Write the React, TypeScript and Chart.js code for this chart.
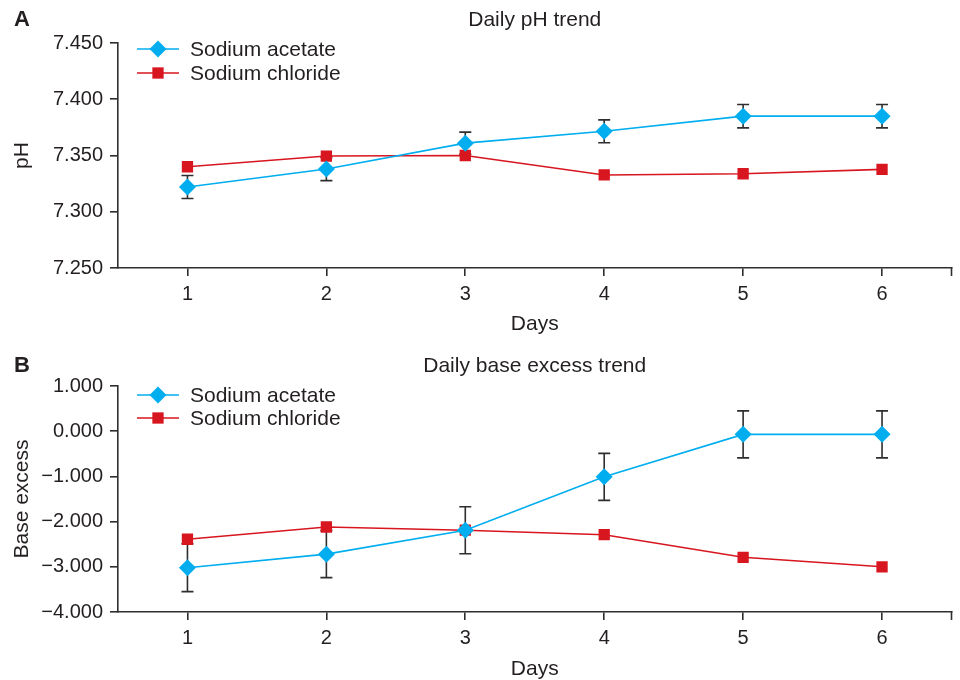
import React, { useEffect, useRef } from 'react';
import { Chart, registerables } from 'chart.js';

Chart.register(...registerables);

// ---- data ----
const days = ['1', '2', '3', '4', '5', '6'];
const seriesNames = ['Sodium acetate', 'Sodium chloride'];

const phAcetate = [7.322, 7.338, 7.361, 7.3715, 7.385, 7.385];
const phAcetateErr = [0.0102, 0.0103, 0.0098, 0.0102, 0.0104, 0.0104];
const phChloride = [7.34, 7.3495, 7.35, 7.3327, 7.3338, 7.3377];

const beAcetate = [-3.02, -2.72, -2.19, -1.01, -0.07, -0.07];
const beAcetateErr = [0.53, 0.52, 0.52, 0.52, 0.52, 0.52];
const beChloride = [-2.39, -2.12, -2.19, -2.29, -2.79, -3.0];

const phAxis = { min: 7.25, max: 7.45, step: 0.05 };
const beAxis = { min: -4, max: 1, step: 1 };

const BLUE = '#00AEEF';
const RED = '#D7161F';
const AXIS = '#2e2e2e';
const TEXT = '#231F20';
const FONT = "'Liberation Sans', Arial, Helvetica, sans-serif";

function drawMarker(ctx: CanvasRenderingContext2D, style: string, x: number, y: number, r: number, color: string) {
  ctx.save();
  ctx.fillStyle = color;
  ctx.beginPath();
  if (style === 'rectRot') {
    ctx.moveTo(x - r, y);
    ctx.lineTo(x, y - r);
    ctx.lineTo(x + r, y);
    ctx.lineTo(x, y + r);
    ctx.closePath();
  } else {
    const s = Math.SQRT1_2 * r;
    ctx.rect(x - s, y - s, 2 * s, 2 * s);
  }
  ctx.fill();
  ctx.restore();
}

const errorBarPlugin = {
  id: 'errorBars',
  beforeDatasetsDraw(chart: any) {
    const ctx = chart.ctx;
    const yScale = chart.scales.y;
    chart.data.datasets.forEach((ds: any, i: number) => {
      const errs = ds.errorBars;
      if (!errs) return;
      const meta = chart.getDatasetMeta(i);
      ctx.save();
      ctx.strokeStyle = AXIS;
      ctx.lineWidth = 1.6;
      meta.data.forEach((pt: any, j: number) => {
        const v = ds.data[j];
        const e = errs[j];
        const yTop = yScale.getPixelForValue(v + e);
        const yBot = yScale.getPixelForValue(v - e);
        const x = pt.x;
        ctx.beginPath();
        ctx.moveTo(x, yTop);
        ctx.lineTo(x, yBot);
        ctx.moveTo(x - 6, yTop);
        ctx.lineTo(x + 6, yTop);
        ctx.moveTo(x - 6, yBot);
        ctx.lineTo(x + 6, yBot);
        ctx.stroke();
      });
      ctx.restore();
    });
  },
};

const decorPlugin = {
  id: 'decor',
  afterDraw(chart: any, _args: any, opts: any) {
    const ctx = chart.ctx;
    const area = chart.chartArea;
    ctx.save();
    // panel letter
    ctx.fillStyle = TEXT;
    ctx.font = `bold 22px ${FONT}`;
    ctx.textAlign = 'left';
    ctx.textBaseline = 'middle';
    ctx.fillText(opts.letter, 14, opts.titleY);
    // title
    ctx.font = `21px ${FONT}`;
    ctx.textAlign = 'center';
    ctx.fillText(opts.title, (area.left + area.right) / 2, opts.titleY);
    // right end tick of x axis
    ctx.strokeStyle = AXIS;
    ctx.lineWidth = 1.6;
    ctx.beginPath();
    ctx.moveTo(area.right, area.bottom);
    ctx.lineTo(area.right, area.bottom + 8);
    ctx.stroke();
    // legend
    chart.data.datasets.forEach((ds: any, i: number) => {
      const y = area.top + opts.legendOffsets[i];
      ctx.strokeStyle = ds.borderColor;
      ctx.lineWidth = 1.6;
      ctx.beginPath();
      ctx.moveTo(137, y);
      ctx.lineTo(179, y);
      ctx.stroke();
      drawMarker(ctx, ds.pointStyle, 158, y, ds.pointRadius, ds.pointBackgroundColor);
      ctx.fillStyle = TEXT;
      ctx.font = `21px ${FONT}`;
      ctx.textAlign = 'left';
      ctx.textBaseline = 'middle';
      ctx.fillText(ds.label, 190, y + 1);
    });
    ctx.restore();
  },
};

function fmt(v: number) {
  const s = Math.abs(v).toFixed(3);
  return v < -1e-9 ? '\u2212' + s : s;
}

type PanelProps = {
  top: number;
  height: number;
  letter: string;
  title: string;
  titleY: number;
  yTitle: string;
  axis: { min: number; max: number; step: number };
  acetate: number[];
  acetateErr: number[];
  chloride: number[];
  areaTop: number;
  xAxisHeight: number;
  daysPadBottom: number;
  legendOffsets: number[];
};

function Panel(p: PanelProps) {
  const ref = useRef<HTMLCanvasElement | null>(null);
  useEffect(() => {
    if (!ref.current) return;
    const chart = new Chart(ref.current, {
      type: 'line',
      data: {
        labels: days,
        datasets: [
          {
            label: seriesNames[0],
            data: p.acetate,
            errorBars: p.acetateErr,
            borderColor: BLUE,
            backgroundColor: BLUE,
            pointBackgroundColor: BLUE,
            pointBorderWidth: 0,
            pointStyle: 'rectRot',
            pointRadius: 8.5,
            borderWidth: 1.6,
            tension: 0,
          } as any,
          {
            label: seriesNames[1],
            data: p.chloride,
            borderColor: RED,
            backgroundColor: RED,
            pointBackgroundColor: RED,
            pointBorderWidth: 0,
            pointStyle: 'rect',
            pointRadius: 8,
            borderWidth: 1.6,
            tension: 0,
          } as any,
        ],
      },
      options: {
        animation: false,
        responsive: true,
        maintainAspectRatio: false,
        devicePixelRatio: 1,
        layout: { padding: { top: p.areaTop, right: 7, left: 0, bottom: 0 } },
        plugins: {
          legend: { display: false },
          tooltip: { enabled: false },
          title: { display: false },
          decor: { letter: p.letter, title: p.title, titleY: p.titleY, legendOffsets: p.legendOffsets },
        } as any,
        scales: {
          x: {
            type: 'category',
            offset: true,
            afterFit: (s: any) => {
              s.height = p.xAxisHeight;
            },
            grid: {
              display: true,
              drawOnChartArea: false,
              drawTicks: true,
              tickLength: 8,
              color: AXIS,
              lineWidth: 1.6,
              offset: false,
            },
            border: { display: true, color: AXIS, width: 1.6 },
            ticks: { color: TEXT, font: { family: FONT, size: 20 }, padding: 6, maxRotation: 0 },
            title: {
              display: true,
              text: 'Days',
              color: TEXT,
              font: { family: FONT, size: 21, lineHeight: 1 },
              padding: { top: 0, bottom: p.daysPadBottom },
            },
          },
          y: {
            type: 'linear',
            min: p.axis.min,
            max: p.axis.max,
            afterFit: (s: any) => {
              s.width = 118;
            },
            grid: {
              display: true,
              drawOnChartArea: false,
              drawTicks: true,
              tickLength: 8,
              color: AXIS,
              lineWidth: 1.6,
            },
            border: { display: true, color: AXIS, width: 1.6 },
            ticks: {
              stepSize: p.axis.step,
              color: TEXT,
              font: { family: FONT, size: 20 },
              padding: 7,
              callback: (v: any) => fmt(Number(v)),
            },
            title: {
              display: true,
              text: p.yTitle,
              color: TEXT,
              font: { family: FONT, size: 21, lineHeight: 1 },
              padding: { top: 12, bottom: 0 },
            },
          },
        },
      },
      plugins: [errorBarPlugin, decorPlugin],
    } as any);
    return () => chart.destroy();
  }, []);
  return (
    <div style={{ position: 'absolute', left: 0, top: p.top, width: 960, height: p.height }}>
      <canvas ref={ref} />
    </div>
  );
}

export default function App() {
  return (
    <div style={{ position: 'absolute', left: 0, top: 0, width: 960, height: 680, background: '#fff' }}>
      <Panel
        top={0}
        height={340}
        letter="A"
        title="Daily pH trend"
        titleY={20}
        yTitle="pH"
        axis={phAxis}
        acetate={phAcetate}
        acetateErr={phAcetateErr}
        chloride={phChloride}
        areaTop={43}
        xAxisHeight={72}
        daysPadBottom={5}
        legendOffsets={[6, 30]}
      />
      <Panel
        top={340}
        height={340}
        letter="B"
        title="Daily base excess trend"
        titleY={26}
        yTitle="Base excess"
        axis={beAxis}
        acetate={beAcetate}
        acetateErr={beAcetateErr}
        chloride={beChloride}
        areaTop={46}
        xAxisHeight={68}
        daysPadBottom={0}
        legendOffsets={[9, 32]}
      />
    </div>
  );
}
